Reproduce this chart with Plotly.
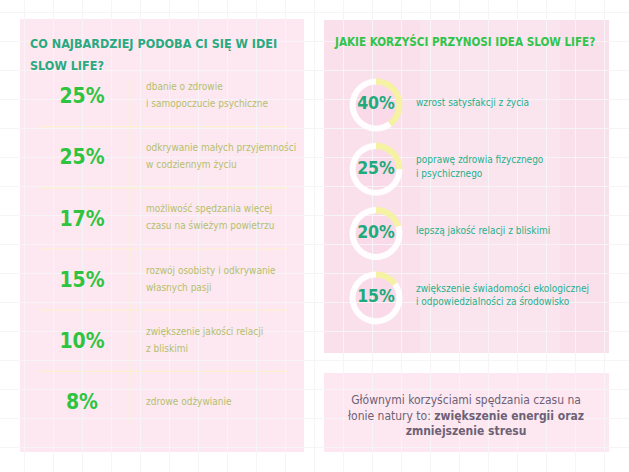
import plotly.graph_objects as go

W, H = 629, 472

# lewa kolumna: co najbardziej podoba się w idei slow life
left_title = ["CO NAJBARDZIEJ PODOBA CI SIĘ W IDEI", "SLOW LIFE?"]
left_pcts = [25, 25, 17, 15, 10, 8]
left_labels = [
    "dbanie o zdrowie<br>i samopoczucie psychiczne",
    "odkrywanie małych przyjemności<br>w codziennym życiu",
    "możliwość spędzania więcej<br>czasu na świeżym powietrzu",
    "rozwój osobisty i odkrywanie<br>własnych pasji",
    "zwiększenie jakości relacji<br>z bliskimi",
    "zdrowe odżywianie",
]

# prawa kolumna: korzyści
right_title = "JAKIE KORZYŚCI PRZYNOSI IDEA SLOW LIFE?"
right_pcts = [40, 25, 20, 15]
right_labels = [
    "wzrost satysfakcji z życia",
    "poprawę zdrowia fizycznego<br>i psychicznego",
    "lepszą jakość relacji z bliskimi",
    "zwiększenie świadomości ekologicznej<br>i odpowiedzialności za środowisko",
]

summary = ("Głównymi korzyściami spędzania czasu na<br>"
           "łonie natury to: <b>zwiększenie energii oraz</b><br>"
           "<b>zmniejszenie stresu</b>")

FONT = "DejaVu Sans Condensed, DejaVu Sans, sans-serif"
PINK = "#fde8f1"

# rozmieszczenie wierszy
left_y0, left_step = 98, 61.2
right_y0, right_step = 105, 64.3
ring_x, ring_r = 376, 26.5

left_y = [left_y0 + i * left_step for i in range(len(left_pcts))]
right_y = [right_y0 + i * right_step for i in range(len(right_pcts))]


def split_lines(labels, ys, gap):
    # każda linia opisu osobno, żeby ustawić odstęp między wierszami
    out_y, txt = [], []
    for lab, y in zip(labels, ys):
        parts = lab.split("<br>")
        n = len(parts)
        for k, part in enumerate(parts):
            out_y.append(y + (k - (n - 1) / 2) * gap)
            txt.append(part)
    return out_y, txt


fig = go.Figure()

# procenty po lewej
fig.add_trace(go.Scatter(
    x=[82] * len(left_pcts), y=left_y,
    mode="text", text=[f"<b>{p}%</b>" for p in left_pcts],
    textposition="middle center",
    textfont=dict(family=FONT, size=21, color="#2ec43f"),
    hoverinfo="skip", showlegend=False,
))
# opisy po lewej
ly, lt = split_lines(left_labels, [y - 2 for y in left_y], 17)
fig.add_trace(go.Scatter(
    x=[146] * len(lt), y=ly,
    mode="text", text=lt,
    textposition="middle right",
    textfont=dict(family=FONT, size=10, color="#b3bf6e"),
    hoverinfo="skip", showlegend=False,
))
# procenty po prawej
fig.add_trace(go.Scatter(
    x=[ring_x] * len(right_pcts), y=right_y,
    mode="text", text=[f"<b>{p}%</b>" for p in right_pcts],
    textposition="middle center",
    textfont=dict(family=FONT, size=17.5, color="#1faa7c"),
    hoverinfo="skip", showlegend=False,
))
# opisy po prawej
ry, rt = split_lines(right_labels, [y - 2 for y in right_y], 13.5)
fig.add_trace(go.Scatter(
    x=[416] * len(rt), y=ry,
    mode="text", text=rt,
    textposition="middle right",
    textfont=dict(family=FONT, size=10, color="#25b08c"),
    hoverinfo="skip", showlegend=False,
))

# pierścienie z procentem
for p, y in zip(right_pcts, right_y):
    fig.add_trace(go.Pie(
        values=[p, 100 - p],
        marker=dict(colors=["#f6f2a4", "rgba(255,255,255,0.92)"], line=dict(width=0)),
        hole=0.77, sort=False, direction="clockwise", rotation=0,
        textinfo="none", hoverinfo="skip", showlegend=False,
        domain=dict(x=[(ring_x - ring_r) / W, (ring_x + ring_r) / W],
                    y=[(H - y - ring_r) / H, (H - y + ring_r) / H]),
    ))

shapes = [
    # panele
    dict(type="rect", x0=20, x1=304, y0=19, y1=452, fillcolor=PINK, line_width=0, layer="below"),
    dict(type="rect", x0=324, x1=609, y0=20, y1=353, fillcolor="#f9e0eb", line_width=0, layer="below"),
    dict(type="rect", x0=420, x1=560, y0=20, y1=353, fillcolor="rgba(255,255,255,0.18)", line_width=0, layer="below"),
    dict(type="rect", x0=324, x1=609, y0=373, y1=452, fillcolor=PINK, line_width=0, layer="below"),
    # linie podziału
    dict(type="line", x0=130, x1=130, y0=80, y1=424, line=dict(color="#fbf1cf", width=1.2), layer="below"),
]
for i in range(len(left_y) - 1):
    yy = (left_y[i] + left_y[i + 1]) / 2 - 2
    shapes.append(dict(type="line", x0=40, x1=288, y0=yy, y1=yy,
                       line=dict(color="#fbf1cf", width=1.2), layer="below"))
for y in right_y:
    shapes.append(dict(type="circle", x0=ring_x - 21, x1=ring_x + 21, y0=y - 21, y1=y + 21,
                       fillcolor="#fad9e8", line_width=0, layer="below"))

annotations = [
    dict(x=28, y=43, text="<b>" + left_title[0] + "</b>", showarrow=False, xanchor="left", yanchor="middle",
         font=dict(family=FONT, size=12.5, color="#2aa981")),
    dict(x=28, y=65, text="<b>" + left_title[1] + "</b>", showarrow=False, xanchor="left", yanchor="middle",
         font=dict(family=FONT, size=12.5, color="#2aa981")),
    dict(x=332, y=41, text="<b>" + right_title + "</b>", showarrow=False, xanchor="left", yanchor="middle",
         font=dict(family=FONT, size=11.6, color="#31c44a")),
    dict(x=466, y=415, text=summary, showarrow=False, xanchor="center", yanchor="middle",
         align="center", font=dict(family=FONT, size=12, color="#6d6176")),
]

fig.update_layout(
    width=W, height=H,
    margin=dict(l=0, r=0, t=0, b=0),
    paper_bgcolor="white", plot_bgcolor="white",
    xaxis=dict(range=[0, W], showgrid=True, gridcolor="#f7f4f7", dtick=29, tick0=24,
               zeroline=False, showticklabels=False, fixedrange=True),
    yaxis=dict(range=[H, 0], showgrid=True, gridcolor="#f7f4f7", dtick=29, tick0=12,
               zeroline=False, showticklabels=False, fixedrange=True),
    shapes=shapes,
    annotations=annotations,
)

fig.write_html("out.html", config={"displayModeBar": False},
               post_script="document.body.style.margin='0';")
